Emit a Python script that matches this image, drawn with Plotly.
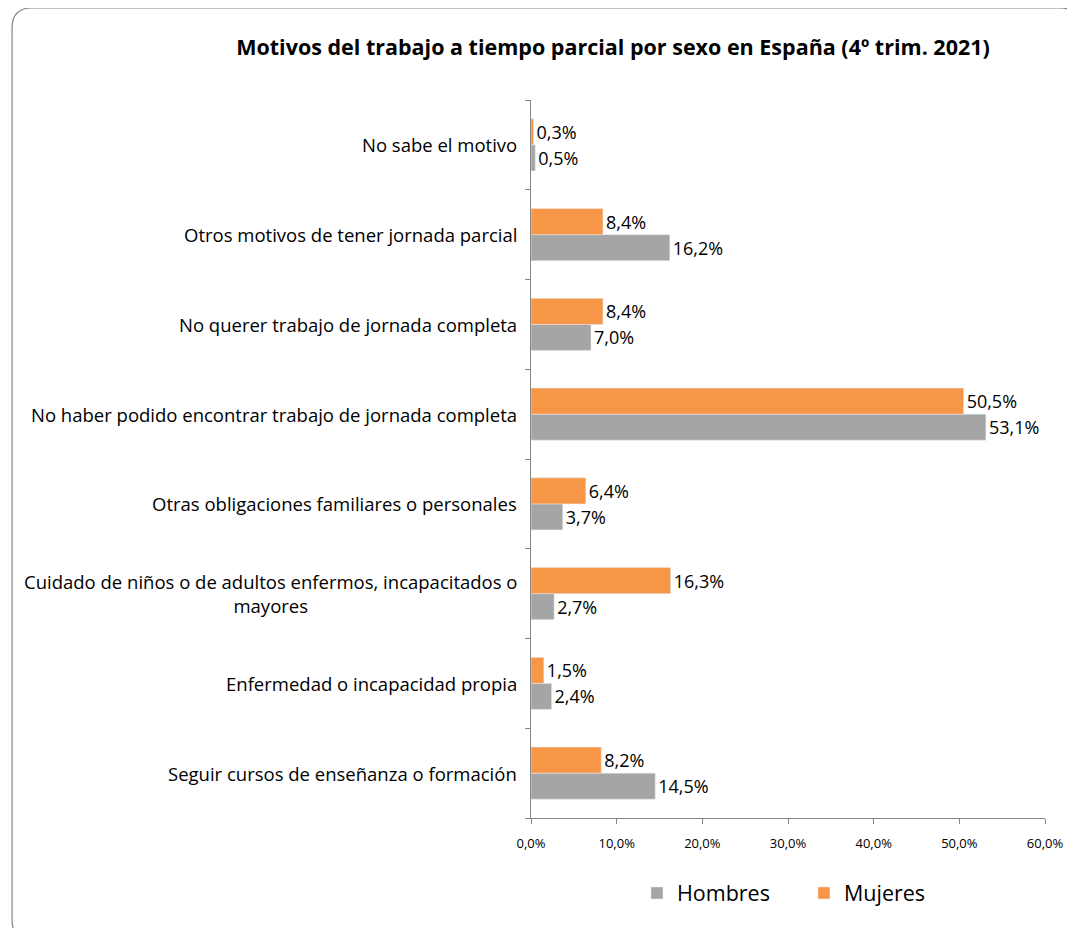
import plotly.graph_objects as go

categories = [
    "Seguir cursos de enseñanza o formación",
    "Enfermedad o incapacidad propia",
    "Cuidado de niños o de adultos enfermos, incapacitados o<br>mayores",
    "Otras obligaciones familiares o personales",
    "No haber podido encontrar trabajo de jornada completa",
    "No querer trabajo de jornada completa",
    "Otros motivos de tener jornada parcial",
    "No sabe el motivo",
]
hombres = [14.5, 2.4, 2.7, 3.7, 53.1, 7.0, 16.2, 0.5]
mujeres = [8.2, 1.5, 16.3, 6.4, 50.5, 8.4, 8.4, 0.3]
x_ticks = [0, 10, 20, 30, 40, 50, 60]
x_tick_labels = [f"{v:.1f}%".replace(".", ",") for v in x_ticks]

FONT = "Open Sans"
OFF = 8  # page body margin
W, H = 1075 - OFF, 928 - OFF
ML = 531 - OFF
MR = 1075 - 1050
MT = 100 - OFF
MB = 928 - 818
PW, PH = W - ML - MR, H - MT - MB


def px_x(p):
    return (p - OFF - ML) / PW


def px_y(p):
    return (H - MB - (p - OFF)) / PH


fig = go.Figure()
fig.add_trace(go.Bar(
    y=categories, x=hombres, name="Hombres", orientation="h",
    marker=dict(color="#A5A5A5"),
    texttemplate="%{x:.1f}%", textposition="outside", cliponaxis=False,
    textfont=dict(family=FONT, size=18, color="#000000"),
))
fig.add_trace(go.Bar(
    y=categories, x=mujeres, name="Mujeres", orientation="h",
    marker=dict(color="#F79646"),
    texttemplate="%{x:.1f}%", textposition="outside", cliponaxis=False,
    textfont=dict(family=FONT, size=18, color="#000000"),
))

for c in categories:
    fig.add_annotation(
        x=0, xref="paper", y=c, yref="y", text=c, showarrow=False,
        xanchor="right", xshift=-12, align="center",
        font=dict(family=FONT, size=18.5, color="#000000"),
    )

# rounded chart border
x0, y0, x1, y1, r = px_x(7), px_y(8), px_x(1085), px_y(940), 20
rx, ry = r / PW, r / PH
path = (f"M {x0},{y0-ry} Q {x0},{y0} {x0+rx},{y0} L {x1-rx},{y0} Q {x1},{y0} {x1},{y0-ry} "
        f"L {x1},{y1+ry} Q {x1},{y1} {x1-rx},{y1} L {x0+rx},{y1} Q {x0},{y1} {x0},{y1+ry} Z")
fig.add_shape(type="path", path=path, xref="paper", yref="paper",
              line=dict(color="#868686", width=1.2), layer="below")

fig.update_layout(
    width=W, height=H,
    margin=dict(l=ML, r=MR, t=MT, b=MB),
    paper_bgcolor="white", plot_bgcolor="white",
    separators=",.",
    barmode="group", bargap=0.42, bargroupgap=0,
    title=dict(
        text="<b>Motivos del trabajo a tiempo parcial por sexo en España (4º trim. 2021)</b>",
        x=(613 - OFF) / W, xref="container", xanchor="center",
        y=1 - (47 - OFF) / H, yref="container", yanchor="middle",
        font=dict(family=FONT, size=21.5, color="#000000"),
    ),
    xaxis=dict(
        range=[0, 60], tickvals=x_ticks, ticktext=x_tick_labels,
        showgrid=False, zeroline=False, showline=True, linecolor="#868686",
        ticks="outside", ticklen=5, tickcolor="#868686",
        tickfont=dict(family=FONT, size=13, color="#000000"),
        ticklabelstandoff=8,
    ),
    yaxis=dict(
        showticklabels=False, showgrid=False, zeroline=False,
        showline=True, linecolor="#868686",
        ticks="outside", ticklen=5, tickcolor="#868686", tickson="boundaries",
    ),
    legend=dict(
        orientation="h", x=px_x(638), xanchor="left", y=px_y(893), yanchor="middle",
        font=dict(family=FONT, size=21.5, color="#000000"),
        traceorder="normal", entrywidth=122, entrywidthmode="pixels",
    ),
    showlegend=True,
)

fig.write_html("out.html")
